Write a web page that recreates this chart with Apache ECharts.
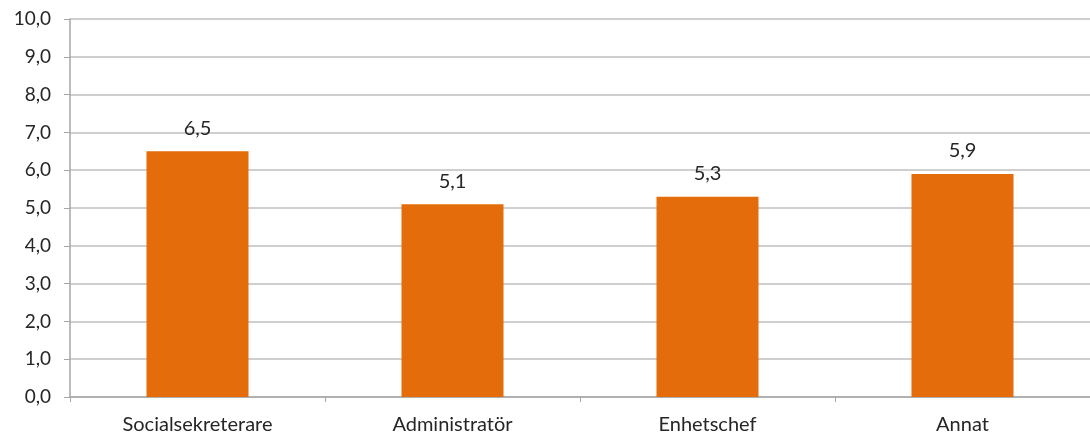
<!DOCTYPE html>
<html>
<head>
<meta charset="utf-8">
<script src="https://cdn.jsdelivr.net/npm/echarts@6/dist/echarts.min.js"></script>
<style>
html,body{margin:0;padding:0;background:#fff;}
#chart{width:1090px;height:437px;}
</style>
</head>
<body>
<div id="chart"></div>
<script>
const categories = ['Socialsekreterare', 'Administratör', 'Enhetschef', 'Annat'];
const values = [6.5, 5.1, 5.3, 5.9];
const yTicks = [0, 1, 2, 3, 4, 5, 6, 7, 8, 9, 10];

const fmt = v => v.toFixed(1).replace('.', ',');
const FONT = 'Lato';
const chart = echarts.init(document.getElementById('chart'));
chart.setOption({
  animation: false,
  textStyle: { fontFamily: FONT },
  grid: { left: 70, top: 19, width: 1024, bottom: 40, containLabel: false },
  xAxis: {
    type: 'category',
    data: categories,
    boundaryGap: true,
    axisLine: { lineStyle: { color: '#a6a6a6', width: 1.5 } },
    axisTick: { show: true, alignWithLabel: false, length: 5, lineStyle: { color: '#a6a6a6' } },
    axisLabel: { color: '#262626', fontSize: 20, margin: 18, fontFamily: FONT }
  },
  yAxis: {
    type: 'value',
    min: yTicks[0],
    max: yTicks[yTicks.length - 1],
    interval: 1,
    axisLine: { show: true, lineStyle: { color: '#a6a6a6', width: 1.5 } },
    axisTick: { show: true, length: 6, lineStyle: { color: '#a6a6a6' } },
    splitLine: { lineStyle: { color: '#bfbfbf', width: 1.5 } },
    axisLabel: { color: '#262626', fontSize: 19, margin: 19, formatter: fmt, fontFamily: FONT }
  },
  series: [{
    type: 'bar',
    data: values,
    barWidth: '40%',
    itemStyle: { color: '#E46C0A' },
    label: {
      show: true,
      position: 'top',
      distance: 13,
      color: '#262626',
      fontSize: 20,
      fontFamily: FONT,
      formatter: p => fmt(p.value)
    }
  }]
});
</script>
</body>
</html>
